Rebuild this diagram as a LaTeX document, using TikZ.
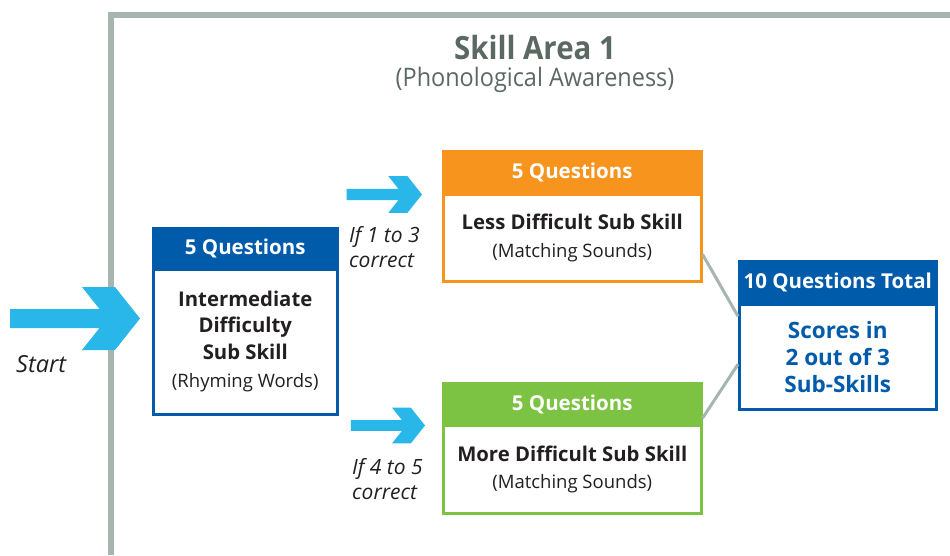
\documentclass[tikz,border=0pt]{standalone}
\usepackage{fontspec}
\setmainfont{Open Sans}
\newfontfamily\narrowfont{Open Sans}[FakeStretch=0.92]
\usetikzlibrary{calc}

\definecolor{frameGray}{HTML}{A6B5AE}
\definecolor{titleGray}{HTML}{5B6962}
\definecolor{hdrBlue}{HTML}{005BAA}
\definecolor{hdrOrange}{HTML}{F7941E}
\definecolor{hdrGreen}{HTML}{7CC243}
\definecolor{flowCyan}{HTML}{29B6E9}
\definecolor{inkDark}{HTML}{231F20}

% lighter face for the parenthetical lines
\newcommand\subfont{\mdseries\fontsize{18.5}{22}\selectfont}

\tikzset{
  % chevron-headed arrow, tip at the pic origin
  flowarrow/.pic={
    \path[pic actions] (-130,-9.5) -- (-40.5,-9.5) -- (-58,-31.5) -- (-25,-31.5)
      -- (0,0) -- (-25,31.5) -- (-58,31.5) -- (-40.5,9.5) -- (-130,9.5) -- cycle;
  },
  hdr/.style={fill=#1, draw=#1, line width=2.5pt, text=white,
    font=\bfseries\fontsize{20.5}{24}\selectfont, inner sep=0pt, anchor=north west},
  body/.style={draw=#1, line width=2.5pt, fill=white, text=inkDark,
    align=center, inner sep=0pt, anchor=north west,
    font=\bfseries\fontsize{20.3}{26.5}\selectfont},
  note/.style={font=\itshape\fontsize{21}{24.5}\selectfont, text=inkDark,
    align=left, inner sep=0pt},
  link/.style={draw=frameGray, line width=3pt}
}

\begin{document}
\begin{tikzpicture}[x=1pt,y=-1pt]
\useasboundingbox (0,0) rectangle (950,555);

% outer frame of the skill area
\draw[frameGray, line width=6pt] (111,555) -- (111,15) -- (950,15);

% heading
\node[font=\narrowfont\bfseries\fontsize{32}{36}\selectfont, text=titleGray] (title) at (535,47) {Skill Area 1};
\node[font=\narrowfont\fontsize{25.5}{29}\selectfont, text=titleGray] (subtitle) at (535,80) {(Phonological Awareness)};

% intermediate box
\node[hdr=hdrBlue, minimum width=184pt, minimum height=41pt] (ihead) at (152,227) {5 Questions};
\node[body=hdrBlue, minimum width=184pt, minimum height=145pt] (ibody) at (152,268)
  {Intermediate\\Difficulty\\Sub Skill\\[2pt]{\subfont (Rhyming Words)}};

% less difficult box
\node[hdr=hdrOrange, minimum width=258pt, minimum height=43pt] (lhead) at (442,150) {5 Questions};
\node[body=hdrOrange, minimum width=258pt, minimum height=87pt] (lbody) at (442,193)
  {Less Difficult Sub Skill\\[1pt]{\subfont (Matching Sounds)}};

% more difficult box
\node[hdr=hdrGreen, minimum width=258pt, minimum height=42pt] (mhead) at (442,382) {5 Questions};
\node[body=hdrGreen, minimum width=258pt, minimum height=88pt] (mbody) at (442,424)
  {More Difficult Sub Skill\\[1pt]{\subfont (Matching Sounds)}};

% total box
\node[hdr=hdrBlue, minimum width=197pt, minimum height=43pt] (thead) at (738,260) {10 Questions Total};
\node[body=hdrBlue, minimum width=197pt, minimum height=105pt, text=hdrBlue,
  font=\bfseries\fontsize{22.5}{27}\selectfont] (tbody) at (738,303)
  {Scores in\\2 out of 3\\Sub-Skills};

% links into the total box
\draw[link] ([yshift=-16.5pt]lbody.east) -- ([yshift=40.5pt]tbody.west);
\draw[link] ([yshift=-14pt]mhead.east) -- ([yshift=-7.5pt]tbody.west);

% flow arrows
\pic[fill=flowCyan, preaction={draw=white, line width=6pt}] at (140,318.5) {flowarrow};
\pic[fill=flowCyan, scale=0.58] at (422,194.5) {flowarrow};
\pic[fill=flowCyan, scale=0.57] at (425,425.5) {flowarrow};

% arrow captions
\node[note, anchor=west, font=\itshape\fontsize{23.5}{26}\selectfont] (start) at (16,364) {Start};
\node[note, anchor=west] (lowcap) at (349,247) {If 1 to 3\\correct};
\node[note, anchor=west] (highcap) at (352,479) {If 4 to 5\\correct};
\end{tikzpicture}
\end{document}
